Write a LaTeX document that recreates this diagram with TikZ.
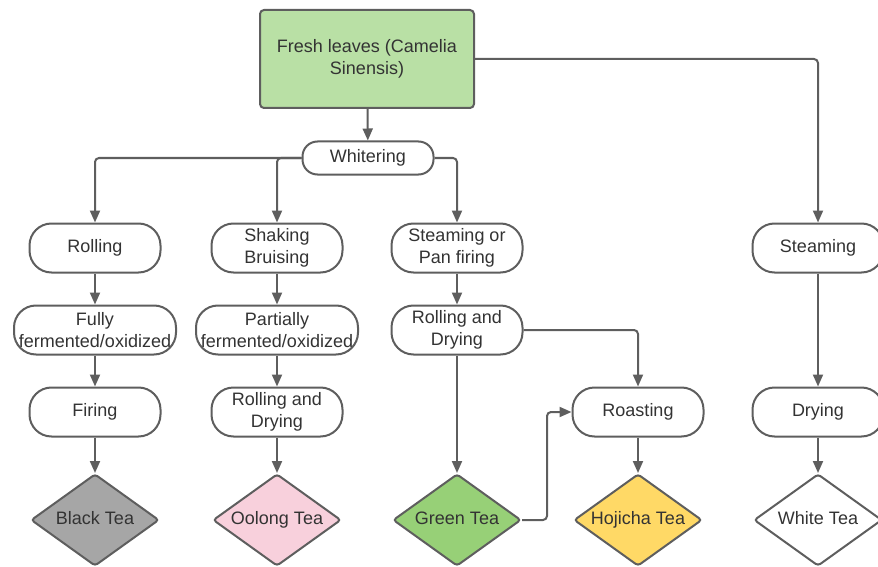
\documentclass[tikz,border=0pt]{standalone}
\usepackage{fontspec}
\setmainfont{Liberation Sans}
\usepackage{tikz}
\usetikzlibrary{positioning,shapes.geometric,arrows.meta}

\definecolor{lineg}{HTML}{5E5E5E}
\definecolor{textg}{HTML}{333333}
\definecolor{leafg}{HTML}{B9E0A5}
\definecolor{blackt}{HTML}{A6A6A6}
\definecolor{oolongt}{HTML}{F8D0DC}
\definecolor{greent}{HTML}{97D077}
\definecolor{hojit}{HTML}{FFD966}

\begin{document}
\begin{tikzpicture}[x=1pt,y=-1pt,node distance=82pt,
  font=\fontsize{18}{22}\selectfont, text=textg]
  \tikzset{
    pill/.style={draw=lineg, line width=2pt, fill=white, rounded corners=22pt,
      minimum width=131pt, minimum height=49pt, inner sep=1pt, align=center},
    teabox/.style={draw=lineg, line width=2pt, diamond, aspect=1.39, rounded corners=3pt,
      minimum width=128pt, minimum height=92pt, inner sep=0pt,
      text height=13pt, text depth=4pt},
    conn/.style={draw=lineg, line width=2pt, rounded corners=4pt,
      -{Triangle[width=10pt,length=12pt]}}
  }
  \useasboundingbox (0,0) rectangle (878,567);
  \node (fresh) [draw=lineg, line width=2pt, fill=leafg, rounded corners=4pt,
    minimum width=214pt, minimum height=98pt, align=center] at (367,59)
    {Fresh leaves (Camelia\\Sinensis)};
  \node (whiter) [pill, minimum height=33pt, rounded corners=15pt] at (368,158) {Whitering};
  % black tea column
  \node (rolling) [pill] at (95,248) {Rolling};
  \node (fully) [pill, minimum width=162pt, below of=rolling] {Fully\\fermented/oxidized};
  \node (firing) [pill, below of=fully] {Firing};
  \node (black) [teabox, fill=blackt, below of=firing, node distance=108pt] {Black Tea};
  % oolong column
  \node (shaking) [pill] at (277,248) {Shaking\\Bruising};
  \node (partial) [pill, minimum width=162pt, below of=shaking] {Partially\\fermented/oxidized};
  \node (rolldry2) [pill, below of=partial] {Rolling and\\Drying};
  \node (oolong) [teabox, fill=oolongt, below of=rolldry2, node distance=108pt] {Oolong Tea};
  % green and hojicha
  \node (steampan) [pill] at (457,248) {Steaming or\\Pan firing};
  \node (rolldry3) [pill, below of=steampan] {Rolling and\\Drying};
  \node (green) [teabox, fill=greent, below of=rolldry3, node distance=190pt] {Green Tea};
  \node (roast) [pill] at (638,412) {Roasting};
  \node (hojicha) [teabox, fill=hojit, below of=roast, node distance=108pt] {Hojicha Tea};
  % white tea
  \node (steam) [pill] at (818,248) {Steaming};
  \node (drying) [pill, below of=steam, node distance=164pt] {Drying};
  \node (white) [teabox, fill=white, below of=drying, node distance=108pt] {White Tea};

  \draw[conn] (fresh) -- (whiter);
  \draw[conn] (fresh.east) -| (steam);
  \draw[conn] (whiter.west) -| (rolling);
  \draw[conn] (whiter.west) -| (shaking);
  \draw[conn] (whiter.east) -| (steampan);
  \draw[conn] (rolling) -- (fully);
  \draw[conn] (fully) -- (firing);
  \draw[conn] (firing) -- (black);
  \draw[conn] (shaking) -- (partial);
  \draw[conn] (partial) -- (rolldry2);
  \draw[conn] (rolldry2) -- (oolong);
  \draw[conn] (steampan) -- (rolldry3);
  \draw[conn] (rolldry3) -- (green);
  \draw[conn] (rolldry3.east) -| (roast);
  \draw[conn] (green.east) -- ++(25,0) |- (roast.west);
  \draw[conn] (roast) -- (hojicha);
  \draw[conn] (steam) -- (drying);
  \draw[conn] (drying) -- (white);
\end{tikzpicture}
\end{document}
